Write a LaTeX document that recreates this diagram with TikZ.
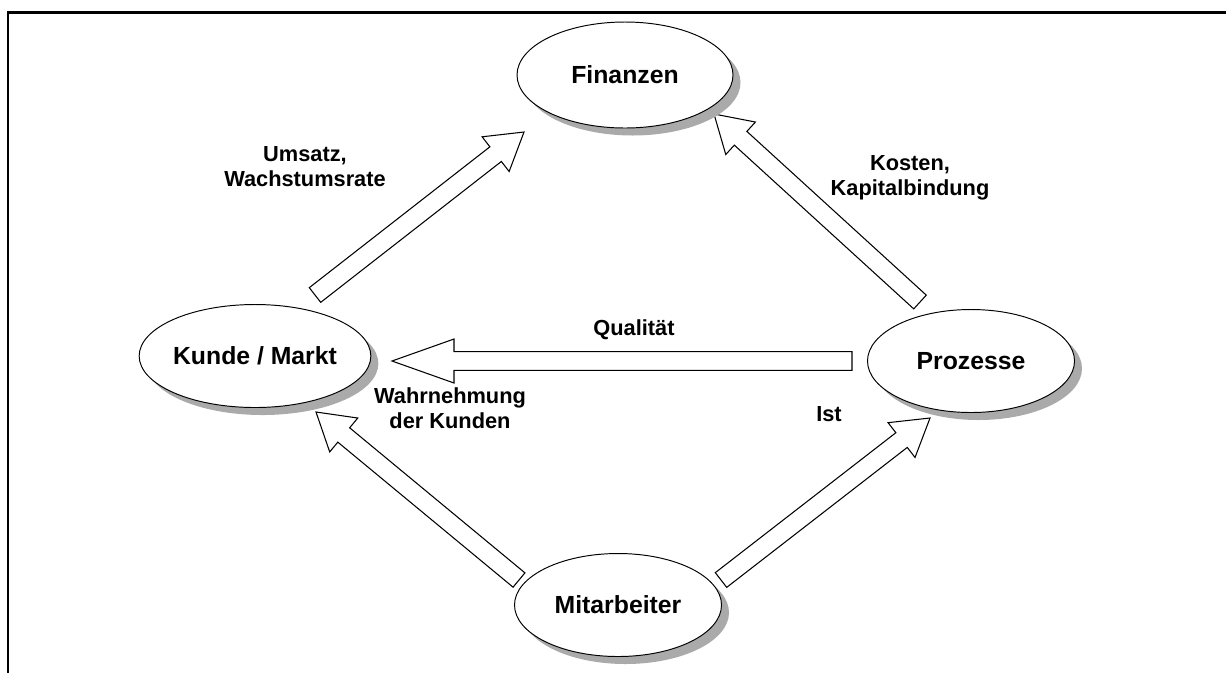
\documentclass[tikz,border=0pt]{standalone}
\usepackage{fontspec}
\setmainfont{Liberation Sans}
\usepackage{tikz}
\usetikzlibrary{positioning,calc,shapes.geometric,shadows}
\definecolor{shadowgrey}{RGB}{170,170,170}
\definecolor{framedark}{RGB}{0,0,0}
% block arrow: tail, tip, head length
\newcommand{\blockarrow}[3]{%
  \coordinate (hb) at ($(#2)!#3!(#1)$);
  \draw[blockarrow] ($(#1)!0.186cm!90:(#2)$) -- ($(hb)!0.186cm!90:(#2)$) -- ($(hb)!0.44cm!90:(#2)$) -- (#2) -- ($(hb)!0.44cm!-90:(#2)$) -- ($(hb)!0.186cm!-90:(#2)$) -- ($(#1)!0.186cm!-90:(#2)$) -- cycle;}

\begin{document}
\begin{tikzpicture}[area/.style={ellipse, draw=black, line width=0.55pt, fill=white, inner sep=0pt, minimum width=4.14cm, minimum height=2.06cm, drop shadow={shadow xshift=0.15cm, shadow yshift=-0.15cm, fill=shadowgrey, opacity=1}, font=\fontsize{14.1}{16}\selectfont\bfseries}, blockarrow/.style={draw=black, fill=white, line width=0.6pt, line join=miter}, tag/.style={align=center, inner sep=0pt, font=\fontsize{12.4}{14.2}\selectfont\bfseries}]
\useasboundingbox (0,0) rectangle (24.52,-13.44);
\draw[framedark, line width=1.7pt] (0.16,-13.6) -- (0.16,-0.25) -- (24.7,-0.25);
% arrow ends
\coordinate (kf-tail) at (6.3,-5.9);
\coordinate (kf-tip) at (10.48,-2.64);
\coordinate (pf-tail) at (18.4,-6.04);
\coordinate (pf-tip) at (14.28,-2.28);
\coordinate (pk-tail) at (17.04,-7.22);
\coordinate (pk-tip) at (7.84,-7.22);
\coordinate (mk-tail) at (10.38,-11.6);
\coordinate (mk-tip) at (6.32,-8.24);
\coordinate (mp-tail) at (14.42,-11.6);
\coordinate (mp-tip) at (18.6,-8.36);
\blockarrow{kf-tail}{kf-tip}{0.72cm}
\blockarrow{pf-tail}{pf-tip}{0.72cm}
\blockarrow{pk-tail}{pk-tip}{1.24cm}
\blockarrow{mk-tail}{mk-tip}{0.72cm}
\blockarrow{mp-tail}{mp-tip}{0.72cm}
\node[area, minimum width=4.32cm, minimum height=2.12cm] (fin) at (12.5,-1.5) {Finanzen};
\node[area] (kunde) at (5.1,-7.12) {Kunde / Markt};
\node[area] (proz) at (19.42,-7.22) {Prozesse};
\node[area] (mit) at (12.36,-12.1) {Mitarbeiter};
\node[tag] (umsatz) at (6.1,-3.34) {Umsatz,\\Wachstumsrate};
\node[tag] (kosten) at (18.2,-3.56) {Kosten,\\Kapitalbindung};
\node[tag] (qual) at (12.68,-6.6) {Qualität};
\node[tag] (wahr) at (9.0,-8.16) {Wahrnehmung\\der Kunden};
\node[tag] (ist) at (16.58,-8.28) {Ist};
\end{tikzpicture}
\end{document}
